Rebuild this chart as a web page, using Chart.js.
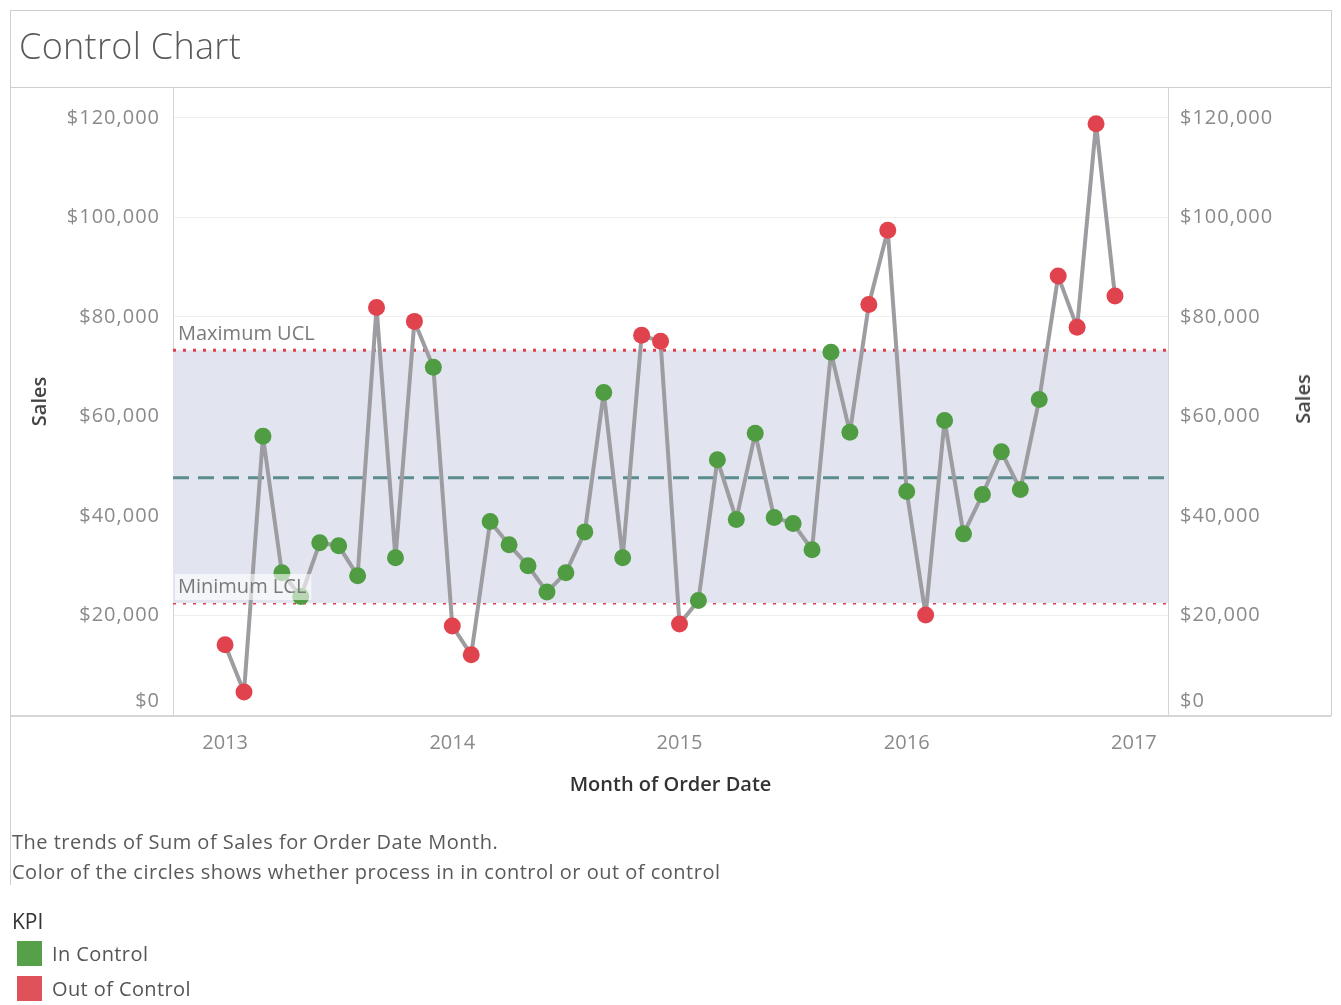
<!DOCTYPE html>
<html><head><meta charset="utf-8">
<script src="https://cdn.jsdelivr.net/npm/chart.js@4.4.1/dist/chart.umd.min.js"></script>
<style>
html,body{margin:0;padding:0;background:#fff;width:1341px;height:1005px;overflow:hidden;font-family:"Open Sans",sans-serif;}
#wrap{position:relative;width:1341px;height:1005px;}
canvas{position:absolute;left:0;top:0;}
.ln{position:absolute;background:#cfcfcf;}
.t{position:absolute;white-space:nowrap;line-height:1;}
.sw{position:absolute;width:25px;height:25px;}
</style></head><body>
<div id="wrap">
<canvas id="c" width="1341" height="1005"></canvas>
<div class="ln" style="left:10px;top:10px;width:1321px;height:1px"></div>
<div class="ln" style="left:10px;top:87px;width:1321px;height:1px"></div>
<div class="ln" style="left:10px;top:715px;width:1321px;height:2px;background:#d6d6d6"></div>
<div class="ln" style="left:10px;top:10px;width:1px;height:875px"></div>
<div class="ln" style="left:1331px;top:10px;width:1px;height:706px"></div>
<div class="t" style="left:19px;top:28px;font-size:36px;font-weight:300;letter-spacing:0.3px;color:#5a5a5a">Control Chart</div>
<div class="t" style="left:1303px;top:399px;font-size:20px;font-weight:600;color:#444;transform:translate(-50%,-50%) rotate(-90deg)">Sales</div>
<div class="t" style="left:12px;top:832px;font-size:20px;letter-spacing:0.5px;color:#5a5a5a">The trends of Sum of Sales for Order Date Month.</div>
<div class="t" style="left:12px;top:862px;font-size:20px;letter-spacing:0.5px;color:#5a5a5a">Color of the circles shows whether process in in control or out of control</div>
<div class="t" style="left:12px;top:911px;font-size:21px;color:#333">KPI</div>
<div class="sw" style="left:17px;top:941px;background:#57a04a"></div>
<div class="sw" style="left:17px;top:976px;background:#e0525a"></div>
<div class="t" style="left:52px;top:944px;font-size:20px;letter-spacing:0.4px;color:#555">In Control</div>
<div class="t" style="left:52px;top:979px;font-size:20px;letter-spacing:0.4px;color:#555">Out of Control</div>
</div>
<script>
// ---- data ----
const months = ['Jan 2013','Feb 2013','Mar 2013','Apr 2013','May 2013','Jun 2013','Jul 2013','Aug 2013','Sep 2013','Oct 2013','Nov 2013','Dec 2013',
  'Jan 2014','Feb 2014','Mar 2014','Apr 2014','May 2014','Jun 2014','Jul 2014','Aug 2014','Sep 2014','Oct 2014','Nov 2014','Dec 2014',
  'Jan 2015','Feb 2015','Mar 2015','Apr 2015','May 2015','Jun 2015','Jul 2015','Aug 2015','Sep 2015','Oct 2015','Nov 2015','Dec 2015',
  'Jan 2016','Feb 2016','Mar 2016','Apr 2016','May 2016','Jun 2016','Jul 2016','Aug 2016','Sep 2016','Oct 2016','Nov 2016','Dec 2016'];
const sales = [14100, 4600, 56000, 28600, 23800, 34600, 34000, 28000, 81900, 31600, 79100, 69900,
  17900, 12100, 38900, 34200, 30000, 24700, 28600, 36800, 64800, 31600, 76300, 75100,
  18300, 23000, 51300, 39300, 56600, 39700, 38500, 33200, 72900, 56800, 82500, 97400,
  44900, 20100, 59200, 36400, 44300, 52900, 45300, 63400, 88200, 77900, 118800, 84200];
const kpi = ['Out','Out','In','In','In','In','In','In','Out','In','Out','In',
  'Out','Out','In','In','In','In','In','In','In','In','Out','Out',
  'Out','In','In','In','In','In','In','In','In','In','Out','Out',
  'In','Out','In','In','In','In','In','In','Out','Out','Out','Out'];
const maxUCL = 73300;
const minLCL = 22500;
const avgSales = 47700;
const yTicks = [0, 20000, 40000, 60000, 80000, 100000, 120000];
const yearTicks = ['2013', '2014', '2015', '2016', '2017'];
const kpiColors = { In: '#4f9c42', Out: '#e1434e' };

// ---- axis extents (month index, 0 = Jan 2013) ----
const xMin = -2.75, xMax = 49.8, yMin = 0, yMax = 126000;

const salesPts = sales.map((v, i) => ({ x: i, y: v }));
const refLine = v => [{ x: xMin, y: v }, { x: xMax, y: v }];
const money = v => '$' + Number(v).toLocaleString('en-US');
const FONT = '"Open Sans", sans-serif';

const refLabels = {
  id: 'refLabels',
  afterDatasetsDraw(chart) {
    const { ctx, chartArea, scales: { y } } = chart;
    ctx.save();
    ctx.font = '20px ' + FONT;
    ctx.textBaseline = 'middle';
    [['Maximum UCL', maxUCL], ['Minimum LCL', minLCL]].forEach(([txt, v]) => {
      const py = y.getPixelForValue(v);
      const x = chartArea.left + 5;
      const w = ctx.measureText(txt).width;
      ctx.fillStyle = 'rgba(255,255,255,0.6)';
      ctx.fillRect(x - 3, py - 29, w + 8, 26);
      ctx.fillStyle = '#7a7a7a';
      ctx.fillText(txt, x, py - 16);
    });
    ctx.restore();
  }
};

// Tableau-style value labels: bottom label kept inside the pane
const yLabels = {
  id: 'yLabels',
  afterDraw(chart) {
    const { ctx, chartArea, scales: { y, y2 } } = chart;
    ctx.save();
    ctx.font = '20px ' + FONT;
    if ('letterSpacing' in ctx) ctx.letterSpacing = '1px';
    ctx.fillStyle = '#8a8a8a';
    ctx.textBaseline = 'middle';
    yTicks.forEach(v => {
      const py = Math.min(y.getPixelForValue(v), chartArea.bottom - 14);
      ctx.textAlign = 'right';
      ctx.fillText(money(v), y.right - 13, py);
      const py2 = Math.min(y2.getPixelForValue(v), chartArea.bottom - 14);
      ctx.textAlign = 'left';
      ctx.fillText(money(v), y2.left + 12, py2);
    });
    ctx.restore();
  }
};

new Chart(document.getElementById('c'), {
  type: 'line',
  data: {
    labels: months,
    datasets: [
      { label: 'Sales', data: salesPts, order: 1, borderColor: '#9c9ca1', borderWidth: 4, borderJoinStyle: 'round',
        pointRadius: 8.5, pointHoverRadius: 8.5, pointBorderWidth: 0,
        pointBackgroundColor: kpi.map(k => kpiColors[k]), tension: 0, fill: false, yAxisID: 'y' },
      { label: 'Average', data: refLine(avgSales), order: 2, borderColor: '#5b8c8e', borderWidth: 3,
        borderDash: [16, 9], pointRadius: 0, fill: false, yAxisID: 'y' },
      { label: 'Maximum UCL', data: refLine(maxUCL), order: 3, borderColor: '#e0404c', borderWidth: 3,
        borderDash: [3, 7], pointRadius: 0, fill: '+1', backgroundColor: '#e2e5f0', yAxisID: 'y' },
      { label: 'Minimum LCL', data: refLine(minLCL), order: 4, borderColor: '#e0404c', borderWidth: 3,
        borderDash: [3, 7], pointRadius: 0, fill: false, yAxisID: 'y' }
    ]
  },
  options: {
    responsive: false, animation: false,
    layout: { padding: { top: 88, bottom: 200, left: 0, right: 0 } },
    plugins: { legend: { display: false }, tooltip: { enabled: false } },
    scales: {
      x: {
        type: 'linear', min: xMin, max: xMax,
        afterBuildTicks: s => { s.ticks = yearTicks.map((yr, i) => ({ value: i * 12 })); },
        afterFit: s => { s.height = 90; },
        ticks: { callback: (v, i) => yearTicks[i], color: '#8a8a8a', font: { size: 20, family: FONT }, padding: 16, maxRotation: 0, autoSkip: false },
        grid: { display: false, drawTicks: false }, border: { display: false },
        title: { display: true, text: 'Month of Order Date', color: '#333', font: { size: 20, weight: '600', family: FONT }, padding: { top: 0, bottom: 8 } }
      },
      y: {
        position: 'left', min: yMin, max: yMax,
        afterBuildTicks: s => { s.ticks = yTicks.map(v => ({ value: v })); },
        afterFit: s => { s.width = 173; },
        ticks: { display: false },
        grid: { color: '#efefef', lineWidth: 1, drawTicks: false },
        border: { display: true, color: '#d4d4d4', width: 1 },
        title: { display: true, text: 'Sales', color: '#444', font: { size: 20, weight: '600', family: FONT }, padding: { top: 28, bottom: 0 } }
      },
      y2: {
        position: 'right', min: yMin, max: yMax,
        afterBuildTicks: s => { s.ticks = yTicks.map(v => ({ value: v })); },
        afterFit: s => { s.width = 173; },
        ticks: { display: false },
        grid: { display: false, drawTicks: false },
        border: { display: true, color: '#d4d4d4', width: 1 },
        title: { display: false }
      }
    }
  },
  plugins: [refLabels, yLabels]
});
</script>
</body></html>
